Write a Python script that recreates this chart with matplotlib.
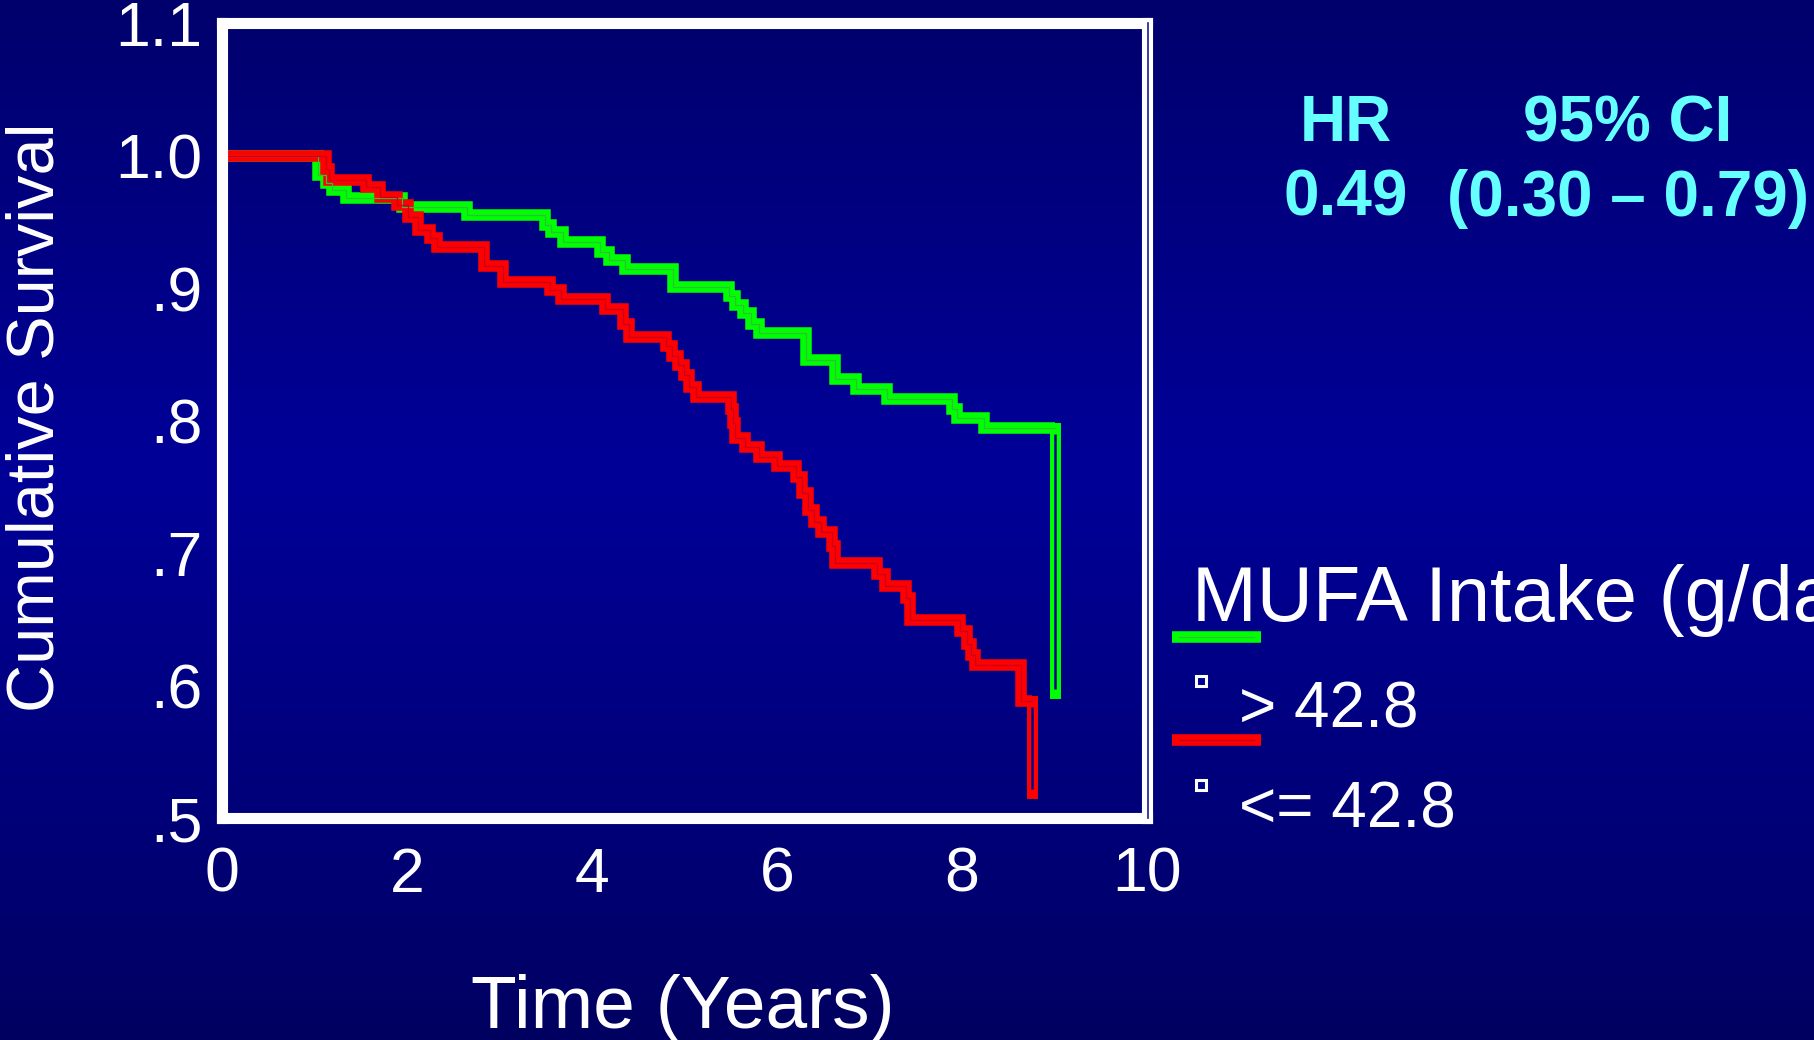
import numpy as np
import matplotlib
matplotlib.use("Agg")
import matplotlib.pyplot as plt
from matplotlib.lines import Line2D

plt.rcParams['font.family'] = ['Liberation Sans', 'DejaVu Sans']

# ---------------- data ----------------
t_green = [0, 1.04, 1.12, 1.19, 1.34, 1.95, 2.645, 3.49, 3.56, 3.69, 4.09, 4.18, 4.36,
           4.88, 5.48, 5.55, 5.63, 5.72, 5.80, 6.31, 6.63, 6.85, 7.19, 7.89, 7.95, 8.24, 9.0]
s_green = [1.0, 0.985, 0.979, 0.974, 0.968, 0.961, 0.955, 0.9475, 0.942, 0.935, 0.927, 0.921, 0.914,
           0.901, 0.894, 0.887, 0.881, 0.873, 0.866, 0.846, 0.831, 0.824, 0.8165, 0.809, 0.802, 0.794, 0.594]

t_red = [0, 1.12, 1.16, 1.56, 1.71, 1.89, 2.01, 2.12, 2.25, 2.32, 2.83, 3.04, 3.55, 3.67,
         4.14, 4.34, 4.40, 4.80, 4.87, 4.93, 4.99, 5.05, 5.12, 5.50, 5.52, 5.55, 5.65, 5.80,
         6.00, 6.20, 6.27, 6.33, 6.40, 6.48, 6.59, 6.63, 7.08, 7.17, 7.39, 7.44, 7.98, 8.05,
         8.10, 8.14, 8.64, 8.76]
s_red = [1.0, 0.99, 0.9815, 0.976, 0.9687, 0.9624, 0.9534, 0.9438, 0.9375, 0.9307, 0.9168, 0.9048, 0.8985, 0.8915,
         0.884, 0.873, 0.8633, 0.856, 0.849, 0.842, 0.834, 0.8255, 0.818, 0.809, 0.798, 0.787, 0.780, 0.7727,
         0.7657, 0.7576, 0.745, 0.7325, 0.7236, 0.716, 0.705, 0.6925, 0.684, 0.675, 0.6658, 0.6494, 0.641, 0.631,
         0.623, 0.6155, 0.588, 0.5186]

x_ticks = [0, 2, 4, 6, 8, 10]
x_ticklabels = ['0', '2', '4', '6', '8', '10']
y_ticks = [0.5, 0.6, 0.7, 0.8, 0.9, 1.0, 1.1]
y_ticklabels = ['.5', '.6', '.7', '.8', '.9', '1.0', '1.1']

legend_title = 'MUFA Intake (g/day)'
legend_labels = ['> 42.8', '<= 42.8']
hr_header = ['HR', '95% CI']
hr_values = ['0.49', '(0.30 \u2013 0.79)']

# ---------------- style ----------------
W, H = 1814, 1040
BG_MID = np.array([0, 0, 152]) / 255
BG_EDGE = np.array([0, 0, 96]) / 255
BG_CORE = '#00008e'
GREEN, GREEN_CORE = '#00ff00', '#2fbf3a'
RED, RED_CORE = '#ff0000', '#c8001e'
CYAN = '#66ffff'
LW = 8.3
CORE_LW = 0.9

fig = plt.figure(figsize=(W / 100, H / 100), dpi=100)

# background gradient
bg = fig.add_axes([0, 0, 1, 1], zorder=-10)
yy = np.linspace(0, 1, 256)
w = 1 - np.abs(yy - 0.45) / 0.55
w = np.clip(w, 0, 1) ** 0.9
grad = (BG_EDGE[None, :] * (1 - w[:, None]) + BG_MID[None, :] * w[:, None])
bg.imshow(grad[:, None, :], aspect='auto', extent=[0, 1, 0, 1], origin='upper')
bg.set_axis_off()

def px(x, y):
    return x / W, 1 - y / H

l, b = px(222, 818)
r, t = px(1147, 23)
ax = fig.add_axes([l, b, r - l, t - b])
ax.set_facecolor('none')
ax.set_xlim(0, 10)
ax.set_ylim(0.5, 1.1)

def draw_curve(tt, ss, col, core):
    tt = np.asarray(tt); ss = np.asarray(ss)
    mt = np.append(tt[:-1], tt[-1])
    ms = np.append(ss[:-1], ss[-2])
    ax.plot(mt, ms, drawstyle='steps-post', color=col, lw=LW, solid_capstyle='butt',
            solid_joinstyle='miter', clip_on=False, zorder=2)
    ax.plot(mt, ms, drawstyle='steps-post', color=core, lw=CORE_LW, clip_on=False, zorder=2.1)
    # final hollow drop
    ax.plot([tt[-1], tt[-1]], [ss[-2], ss[-1]], color=col, lw=LW * 0.95,
            solid_capstyle='projecting', clip_on=False, zorder=2)
    ax.plot([tt[-1], tt[-1]], [ss[-2] - 0.004, ss[-1] + 0.003], color=BG_CORE, lw=CORE_LW * 2.0,
            solid_capstyle='butt', clip_on=False, zorder=2.1)

draw_curve(t_green, s_green, GREEN, GREEN_CORE)
draw_curve(t_red, s_red, RED, RED_CORE)

for sp in ax.spines.values():
    sp.set_color('white')
    sp.set_linewidth(8)
    sp.set_zorder(3)
ax.plot([1.0015, 1.0015], [0, 1], transform=ax.transAxes, color='#1a1a9a', lw=1.2,
        clip_on=False, zorder=3.1)

ax.set_xticks(x_ticks)
ax.set_xticklabels(x_ticklabels)
ax.set_yticks(y_ticks)
ax.set_yticklabels(y_ticklabels)
ax.tick_params(axis='both', colors='white', length=3, width=2, direction='out', labelsize=45)
ax.tick_params(axis='y', pad=11)
ax.tick_params(axis='x', pad=17)

# axis titles
fig.text(*px(37, 417), 'Cumulative Survival', rotation=90, ha='center', va='center',
         color='white', fontsize=48)
fig.text(*px(683, 1028), 'Time (Years)', ha='center', va='baseline', color='white', fontsize=54)

# HR / CI text
fig.text(*px(1346, 141), hr_header[0], ha='center', va='baseline', color=CYAN,
         fontsize=46, fontweight='bold')
fig.text(*px(1628, 141), hr_header[1], ha='center', va='baseline', color=CYAN,
         fontsize=46, fontweight='bold')
fig.text(*px(1346, 216), hr_values[0], ha='center', va='baseline', color=CYAN,
         fontsize=46, fontweight='bold')
fig.text(*px(1628, 216), hr_values[1], ha='center', va='baseline', color=CYAN,
         fontsize=46, fontweight='bold')

# legend
fig.text(*px(1192, 621), legend_title, ha='left', va='baseline', color='white', fontsize=56)
for (yline, ymark, ybase), col, core, lab in zip([(637, 681, 727), (740, 785, 828)],
                                                [GREEN, RED], [GREEN_CORE, RED_CORE],
                                                legend_labels):
    x0, y0 = px(1172, yline)
    x1, _ = px(1261, yline)
    fig.add_artist(Line2D([x0, x1], [y0, y0], color=col, lw=LW, solid_capstyle='butt',
                          transform=fig.transFigure))
    fig.add_artist(Line2D([x0 + 0.004, x1 - 0.004], [y0, y0], color=core, lw=CORE_LW,
                          transform=fig.transFigure))
    mx, my = px(1201, ymark)
    fig.add_artist(Line2D([mx], [my], marker='s', markersize=7, markerfacecolor=BG_CORE,
                          markeredgecolor='white', markeredgewidth=2.2, linestyle='none',
                          transform=fig.transFigure))
    fig.text(*px(1239, ybase), lab, ha='left', va='baseline', color='white', fontsize=46)

fig.savefig('out.png', dpi=100)
